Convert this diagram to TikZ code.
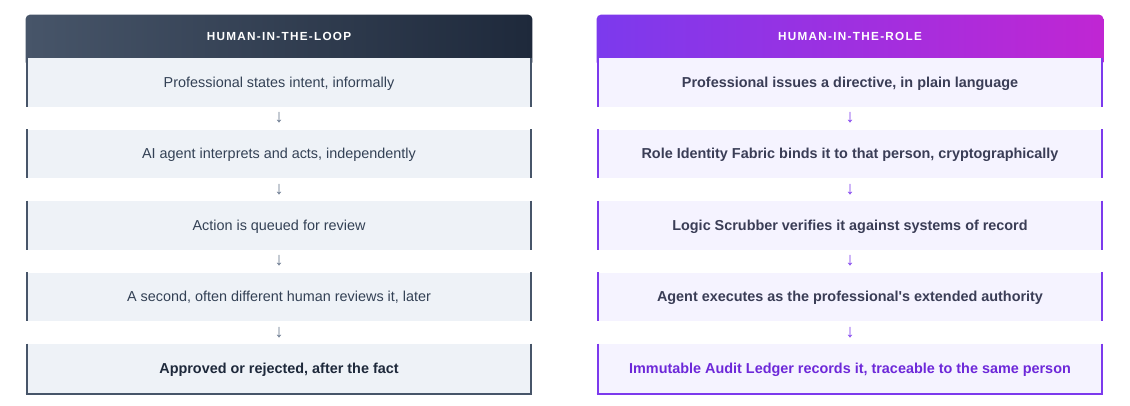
\documentclass[tikz,border=0pt]{standalone}
\usepackage{fontspec}
\setmainfont{Liberation Sans}
\newfontfamily\capsfont[LetterSpace=11]{Liberation Sans}
\usetikzlibrary{backgrounds}
\definecolor{loophead}{HTML}{475569}
\definecolor{loopheadend}{HTML}{1E293B}
\definecolor{loopfill}{HTML}{EEF2F7}
\definecolor{loopline}{HTML}{475569}
\definecolor{looptext}{HTML}{334155}
\definecolor{loopdark}{HTML}{1E293B}
\definecolor{loopgray}{HTML}{64748B}
\definecolor{rolehead}{HTML}{7C3AED}
\definecolor{roleheadend}{HTML}{C026D3}
\definecolor{rolefill}{HTML}{F5F3FF}
\definecolor{roletext}{HTML}{3A3D56}
\definecolor{roledark}{HTML}{6D28D9}

\begin{document}
\begin{tikzpicture}[x=0.75pt, y=-0.75pt]
    \tikzstyle{headbox} = [minimum width=379.5pt, minimum height=32.25pt, inner sep=0pt, text height=6.3pt, text depth=0pt, text=white, font=\capsfont\bfseries\fontsize{8.8pt}{10pt}\selectfont]
    \tikzstyle{stepbox} = [minimum width=378pt, minimum height=36.375pt, inner sep=0pt, text height=7.7pt, text depth=0pt, font=\fontsize{10.8pt}{12pt}\selectfont]
    \tikzstyle{loopbox} = [stepbox, fill=loopfill, text=looptext]
    \tikzstyle{rolebox} = [stepbox, fill=rolefill, text=roletext, font=\bfseries\fontsize{10.8pt}{12pt}\selectfont]
    \tikzstyle{downarrow} = [inner sep=0pt, font=\fontsize{13.5pt}{14pt}\selectfont]
    \tikzstyle{side} = [line width=1.5pt]
    \useasboundingbox (0, 0) rectangle (1130, 405);

    % human in the loop
    \node[headbox] (lh) at (279, 36.5) {HUMAN-IN-THE-LOOP};
    \node[loopbox] (l1) at (279, 82.25) {Professional states intent, informally};
    \node[loopbox] (l2) at (279, 153.75) {AI agent interprets and acts, independently};
    \node[loopbox] (l3) at (279, 225.25) {Action is queued for review};
    \node[loopbox] (l4) at (279, 296.75) {A second, often different human reviews it, later};
    \node[loopbox, text=loopdark, font=\bfseries\fontsize{10.8pt}{12pt}\selectfont] (l5) at (279, 368.25) {Approved or rejected, after the fact};
    \node[downarrow, text=loopgray] (la1) at (279, 118) {↓};
    \node[downarrow, text=loopgray] (la2) at (279, 189.5) {↓};
    \node[downarrow, text=loopgray] (la3) at (279, 261) {↓};
    \node[downarrow, text=loopgray] (la4) at (279, 332.5) {↓};

    % human in the role
    \node[headbox] (rh) at (850, 36.5) {HUMAN-IN-THE-ROLE};
    \node[rolebox] (r1) at (850, 82.25) {Professional issues a directive, in plain language};
    \node[rolebox] (r2) at (850, 153.75) {Role Identity Fabric binds it to that person, cryptographically};
    \node[rolebox] (r3) at (850, 225.25) {Logic Scrubber verifies it against systems of record};
    \node[rolebox] (r4) at (850, 296.75) {Agent executes as the professional\textquotesingle s extended authority};
    \node[rolebox, text=roledark] (r5) at (850, 368.25) {Immutable Audit Ledger records it, traceable to the same person};
    \node[downarrow, text=rolehead] (ra1) at (850, 118) {↓};
    \node[downarrow, text=rolehead] (ra2) at (850, 189.5) {↓};
    \node[downarrow, text=rolehead] (ra3) at (850, 261) {↓};
    \node[downarrow, text=rolehead] (ra4) at (850, 332.5) {↓};

    \begin{scope}[on background layer]
        \shade[left color=loophead, right color=loopheadend, rounded corners=3pt] (lh.north west) rectangle ([yshift=-6pt]lh.south east);
        \shade[left color=rolehead, right color=roleheadend, rounded corners=3pt] (rh.north west) rectangle ([yshift=-6pt]rh.south east);
    \end{scope}

    \foreach \n in {l1, l2, l3, l4, l5}
        \draw[side, loopline] (\n.north west) -- (\n.south west) (\n.north east) -- (\n.south east);
    \foreach \n in {r1, r2, r3, r4, r5}
        \draw[side, rolehead] (\n.north west) -- (\n.south west) (\n.north east) -- (\n.south east);
    \draw[line width=1.875pt, loopline] ([xshift=-0.75pt, yshift=-0.94pt]l5.south west) -- ([xshift=0.75pt, yshift=-0.94pt]l5.south east);
    \draw[line width=1.875pt, rolehead] ([xshift=-0.75pt, yshift=-0.94pt]r5.south west) -- ([xshift=0.75pt, yshift=-0.94pt]r5.south east);
\end{tikzpicture}
\end{document}
